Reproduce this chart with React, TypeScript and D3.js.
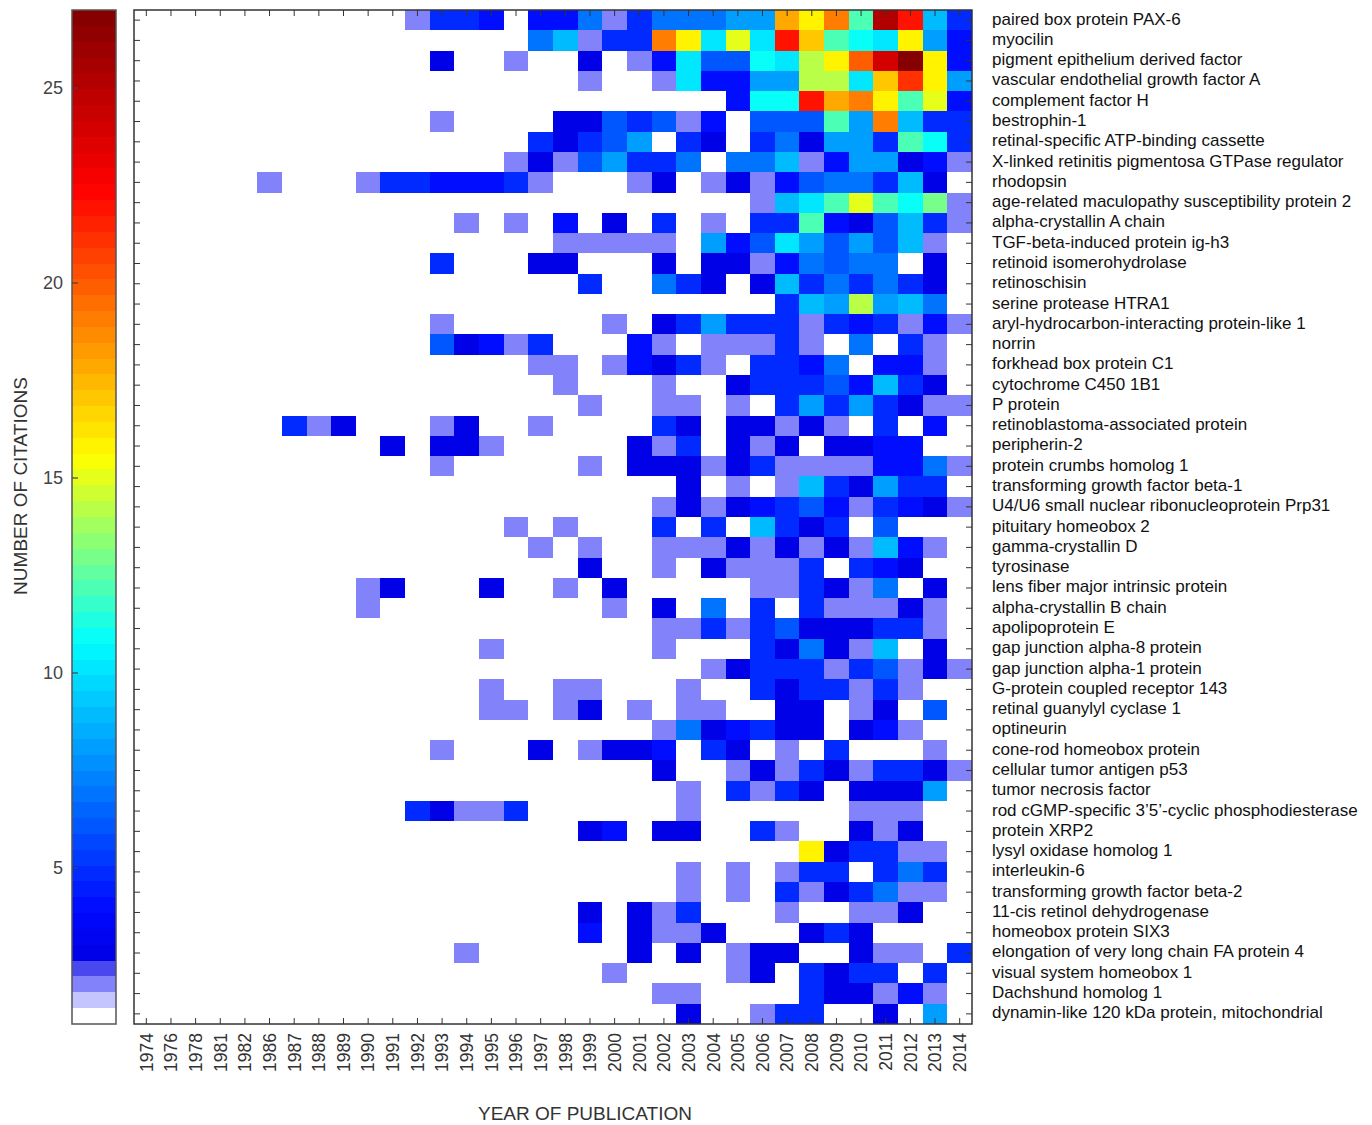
import React from 'react';
import * as d3 from 'd3';

const years = ['1974','1976','1978','1981','1982','1986','1987','1988','1989','1990','1991','1992','1993','1994','1995','1996','1997','1998','1999','2000','2001','2002','2003','2004','2005','2006','2007','2008','2009','2010','2011','2012','2013','2014'];

const proteins = [
  'paired box protein PAX-6',
  'myocilin',
  'pigment epithelium derived factor',
  'vascular endothelial growth factor A',
  'complement factor H',
  'bestrophin-1',
  'retinal-specific ATP-binding cassette',
  'X-linked retinitis pigmentosa GTPase regulator',
  'rhodopsin',
  'age-related maculopathy susceptibility protein 2',
  'alpha-crystallin A chain',
  'TGF-beta-induced protein ig-h3',
  'retinoid isomerohydrolase',
  'retinoschisin',
  'serine protease HTRA1',
  'aryl-hydrocarbon-interacting protein-like 1',
  'norrin',
  'forkhead box protein C1',
  'cytochrome C450 1B1',
  'P protein',
  'retinoblastoma-associated protein',
  'peripherin-2',
  'protein crumbs homolog 1',
  'transforming growth factor beta-1',
  'U4/U6 small nuclear ribonucleoprotein Prp31',
  'pituitary homeobox 2',
  'gamma-crystallin D',
  'tyrosinase',
  'lens fiber major intrinsic protein',
  'alpha-crystallin B chain',
  'apolipoprotein E',
  'gap junction alpha-8 protein',
  'gap junction alpha-1 protein',
  'G-protein coupled receptor 143',
  'retinal guanylyl cyclase 1',
  'optineurin',
  'cone-rod homeobox protein',
  'cellular tumor antigen p53',
  'tumor necrosis factor',
  'rod cGMP-specific 3\u20195\u2019-cyclic phosphodiesterase',
  'protein XRP2',
  'lysyl oxidase homolog 1',
  'interleukin-6',
  'transforming growth factor beta-2',
  '11-cis retinol dehydrogenase',
  'homeobox protein SIX3',
  'elongation of very long chain FA protein 4',
  'visual system homeobox 1',
  'Dachshund homolog 1',
  'dynamin-like 120 kDa protein, mitochondrial',
];

// Number of citations per protein (row) and year (column): one base-36 digit per year, '.' = none
const citations = [
  '.........' + '..2554.4472577788igjcpm95',
  '.........' + '.......79255jgafamhcbag84',
  '.........' + '...3..2..3.24a66baegkorg4',
  '.........' + '.........2..2a4488eeahlg8',
  '.........' + '...............4bbmijgcf4',
  '.........' + '...2....3365624.666c8j955',
  '.........' + '.......53568.53.573885cb5',
  '.........' + '......23268557.7792488342',
  '.....2...' + '25544452...23.2324677593.',
  '.........' + '................29acfcbd2',
  '.........' + '....2.2.4.3.5.2.55c436952',
  '.........' + '........22222.846a868692.',
  '.........' + '...5...33...3.33247677.3.',
  '.........' + '.........5..753.39575753.',
  '.........' + '.................598e897.',
  '.........' + '...2......2.3585552545242',
  '.........' + '...63425...42.22252.7.52.',
  '.........' + '.......22.24352.5547.442.',
  '.........' + '........2...2..355564953.',
  '.........' + '.........2..22.2.58585322',
  '......523' + '...23..2....53.33232.5.4.',
  '.........' + '.3.332.....325.323.3344..',
  '.........' + '...2.....2.33323522224472',
  '.........' + '.............3.2.2953855.',
  '.........' + '............2323456425432',
  '.........' + '......2.2...5.5.9535.6...',
  '.........' + '.......2.2..222323232942.',
  '.........' + '.........3..2.32225.543..',
  '.........' + '23...3..2.3.....225327.3.',
  '.........' + '2.........2.3.7.5.522232.',
  '.........' + '............225256333552.',
  '.........' + '.....2......2...537329.3.',
  '.........' + '..............23555256232',
  '.........' + '.....2..22...2..5355252..',
  '.........' + '.....22.23.2.22..33.23.6.',
  '.........' + '............2734533.342..',
  '.........' + '...2...3.2334.53.2.5...2.',
  '.........' + '............3..2325325532',
  '.........' + '.............2.5253.3338.',
  '.........' + '..53225......2......222..',
  '.........' + '.........34.33..52..323..',
  '.........' + '..................g35522.',
  '.........' + '.............2.2.255.575.',
  '.........' + '.............2.2.5235722.',
  '.........' + '.........3.325...2..223..',
  '.........' + '.........4.3223...353....',
  '.........' + '....2......3.3.233..322.5',
  '.........' + '..........2....23.5355.5.',
  '.........' + '............22....533242.',
  '.........' + '.............3..255..3.8.',
];

const colorbarTicks = [5, 10, 15, 20, 25];
const citationDomain = [1, 27];
const nColors = 64;
const lowColors = ['#ffffff', '#c4c4ff', '#8282fa', '#4848ee'];
const jetStops = [2.7, 3.9, 10.8, 13.15, 15.5, 19.0, 22.4, 27];
const jetColors = ['#0000e4', '#0008ff', '#00ffff', '#80ff80', '#ffff00', '#ff8000', '#ff0000', '#800000'];

function parseVal(c: string): number {
  if (c === '.' || c === undefined) return 0;
  return parseInt(c, 36);
}

export default function App() {
  const W = 1372, H = 1125;
  const left = 134, right = 972, top = 10, bottom = 1024;
  const cbLeft = 72, cbRight = 116;

  const x = d3.scaleBand<string>().domain(years).range([left, right]);
  const y = d3.scaleBand<string>().domain(proteins).range([top, bottom]);
  const cbY = d3.scaleLinear().domain(citationDomain).range([bottom, top]);

  const jet = d3.scaleLinear<string>().domain(jetStops).range(jetColors).interpolate(d3.interpolateRgb).clamp(true);
  const step = (citationDomain[1] - citationDomain[0]) / nColors;
  const cmap = d3.range(nColors).map(i => (i < lowColors.length ? lowColors[i] : jet(citationDomain[0] + (i + 0.5) * step)));
  const idxScale = d3.scaleLinear().domain(citationDomain).range([0, nColors]);
  const colorOf = (v: number) => cmap[Math.max(0, Math.min(nColors - 1, Math.floor(idxScale(v))))];

  const font = 'Liberation Sans, Arial, Helvetica, sans-serif';
  const cells: JSX.Element[] = [];
  proteins.forEach((p, r) => {
    const row = citations[r];
    years.forEach((yr, c) => {
      const v = parseVal(row[c]);
      if (v > 0) {
        cells.push(
          <rect key={`${r}-${c}`} x={x(yr)} y={y(p)} width={x.bandwidth()} height={y.bandwidth()} fill={colorOf(v)} />
        );
      }
    });
  });

  const tickLen = 6;

  return (
    <svg width={W} height={H} style={{ position: 'absolute', left: 0, top: 0, background: '#fff' }} fontFamily={font}>
      <rect x={0} y={0} width={W} height={H} fill="#fff" />
      {/* colorbar */}
      <g shapeRendering="crispEdges">
        {cmap.map((col, i) => {
          const v0 = citationDomain[0] + i * step;
          const v1 = v0 + step;
          return <rect key={i} x={cbLeft} y={cbY(v1)} width={cbRight - cbLeft} height={cbY(v0) - cbY(v1)} fill={col} />;
        })}
      </g>
      <rect x={cbLeft} y={top} width={cbRight - cbLeft} height={bottom - top} fill="none" stroke="#555" strokeWidth={1.5} />
      {colorbarTicks.map(t => (
        <g key={t}>
          <line x1={cbLeft} x2={cbLeft + 6} y1={cbY(t)} y2={cbY(t)} stroke="#444" strokeWidth={1.2} />
          <text x={cbLeft - 9} y={cbY(t)} dy="0.35em" textAnchor="end" fontSize={18} fill="#444">{t}</text>
        </g>
      ))}
      <text transform={`translate(20,486) rotate(-90)`} textAnchor="middle" dy="0.35em" fontSize={19} fill="#333">NUMBER OF CITATIONS</text>

      {/* heatmap */}
      <g shapeRendering="crispEdges">{cells}</g>
      <g stroke="#333" strokeWidth={1}>
        {years.map(yr => {
          const cx = (x(yr) as number) + x.bandwidth() / 2;
          return (
            <g key={yr}>
              <line x1={cx} x2={cx} y1={top} y2={top + tickLen} />
              <line x1={cx} x2={cx} y1={bottom} y2={bottom - tickLen} />
            </g>
          );
        })}
        {proteins.map(p => {
          const cy = (y(p) as number) + y.bandwidth() / 2;
          return (
            <g key={p}>
              <line x1={left} x2={left + tickLen} y1={cy} y2={cy} />
              <line x1={right} x2={right - tickLen} y1={cy} y2={cy} />
            </g>
          );
        })}
      </g>
      <rect x={left} y={top} width={right - left} height={bottom - top} fill="none" stroke="#333" strokeWidth={1.5} />

      {years.map(yr => {
        const cx = (x(yr) as number) + x.bandwidth() / 2;
        return (
          <text key={yr} transform={`translate(${cx},${bottom + 9}) rotate(-90)`} textAnchor="end" dy="0.36em" fontSize={17.5} fill="#333">{yr}</text>
        );
      })}
      <text x={585} y={1113} textAnchor="middle" dy="0.35em" fontSize={19} fill="#333">YEAR OF PUBLICATION</text>

      {proteins.map(p => (
        <text key={p} x={992} y={(y(p) as number) + y.bandwidth() / 2 - 1.5} dy="0.35em" fontSize={17} fill="#111">{p}</text>
      ))}
    </svg>
  );
}
